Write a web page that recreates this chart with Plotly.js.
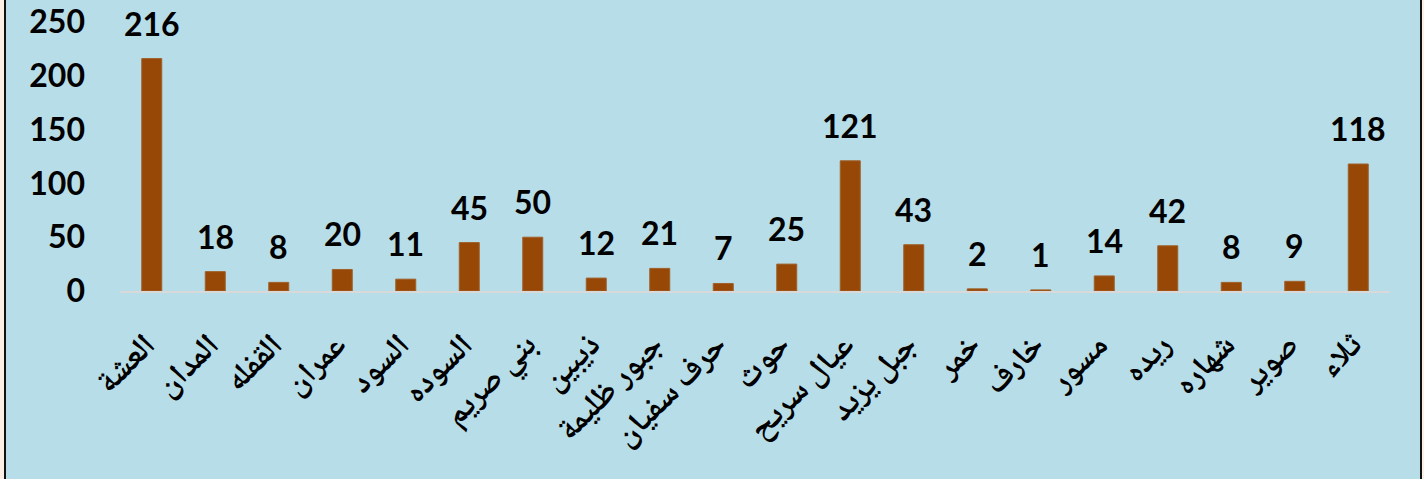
<!DOCTYPE html>
<html>
<head>
<meta charset="utf-8">
<script src="https://cdn.plot.ly/plotly-3.0.1.min.js"></script>
<style>
  html, body { margin: 0; padding: 0; background: #b7dde8; }
  #chart { width: 1424px; height: 479px; }
  .edge { position: absolute; top: 0; height: 479px; }
</style>
</head>
<body>
<div id="chart"></div>
<div class="edge" style="left:0;width:4px;background:#fcefe6;"></div>
<div class="edge" style="left:4px;width:2px;background:#111;"></div>
<div class="edge" style="left:1420px;width:2px;background:#111;"></div>
<div class="edge" style="left:1422px;width:2px;background:#fcefe6;"></div>
<script>
const categories = ["العشة", "المدان", "القفله", "عمران", "السود", "السوده", "بني صريم", "ذيبين", "جبور ظليمة", "حرف سفيان", "حوث", "عيال سريح", "جبل يزيد", "خمر", "خارف", "مسور", "ريده", "شهاره", "صوير", "ثلاء"];
const values = [216, 18, 8, 20, 11, 45, 50, 12, 21, 7, 25, 121, 43, 2, 1, 14, 42, 8, 9, 118];
const yTicks = [0, 50, 100, 150, 200, 250];

const numFont = { family: "Lato, 'Open Sans', sans-serif", size: 32, color: "#000", weight: 700 };

const trace = {
  type: "bar",
  x: categories,
  y: values,
  marker: { color: "#974706", line: { color: "#a0602a", width: 1 } },
  hoverinfo: "skip"
};

const annotations = categories.map((c, i) => ({
  x: c,
  y: values[i],
  xref: "x",
  yref: "y",
  text: String(values[i]),
  showarrow: false,
  yanchor: "bottom",
  yshift: 14,
  font: numFont
}));

const layout = {
  width: 1424,
  height: 479,
  autosize: false,
  margin: { l: 120, r: 34, t: 22, b: 188 },
  paper_bgcolor: "#b7dde8",
  plot_bgcolor: "#b7dde8",
  bargap: 0.685,
  showlegend: false,
  xaxis: {
    type: "category",
    tickangle: -45,
    showline: true,
    linecolor: "#d9d9d9",
    linewidth: 2,
    showgrid: false,
    zeroline: false,
    ticks: "",
    ticklabelstandoff: 20,
    ticklabelshift: -6,
    tickfont: { family: "'Noto Naskh Arabic', Amiri, 'Noto Sans Arabic', 'DejaVu Sans', sans-serif", size: 32, color: "#000", weight: 700 }
  },
  yaxis: {
    range: [0, 250],
    tickvals: yTicks,
    ticktext: yTicks.map(String),
    showline: false,
    showgrid: false,
    zeroline: false,
    ticks: "",
    ticklabelstandoff: 34,
    tickfont: numFont
  },
  annotations: annotations
};

Plotly.newPlot("chart", [trace], layout, { displayModeBar: false, staticPlot: true });
</script>
</body>
</html>
